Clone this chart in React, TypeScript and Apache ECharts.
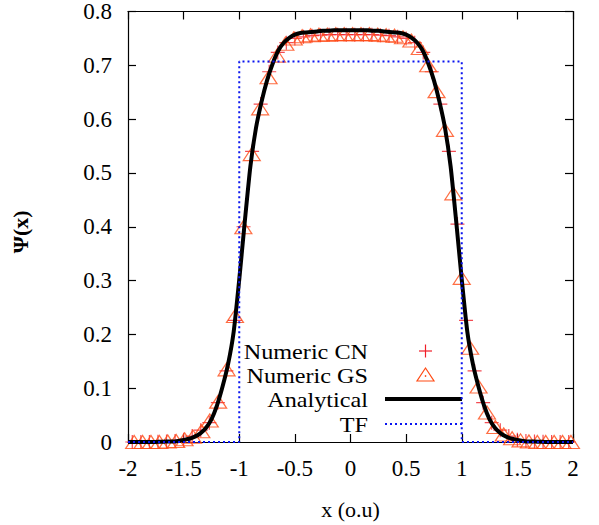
import React, { useEffect, useRef } from "react";
import * as echarts from "echarts";

// Analytical solution
const anaX = [
  -2, -1.95, -1.9, -1.85, -1.8, -1.75, -1.7, -1.65, -1.6, -1.55, -1.5, -1.45, -1.4, -1.35, -1.3, -1.25, -1.2,
  -1.15, -1.1, -1.05, -1, -0.95, -0.9, -0.85, -0.8, -0.75, -0.7, -0.65, -0.6, -0.55, -0.5, -0.45, -0.4, -0.35,
  -0.3, -0.25, -0.2, -0.15, -0.1, -0.05, 0, 0.05, 0.1, 0.15, 0.2, 0.25, 0.3, 0.35, 0.4, 0.45, 0.5, 0.55, 0.6,
  0.65, 0.7, 0.75, 0.8, 0.85, 0.9, 0.95, 1, 1.05, 1.1, 1.15, 1.2, 1.25, 1.3, 1.35, 1.4, 1.45, 1.5, 1.55, 1.6,
  1.65, 1.7, 1.75, 1.8, 1.85, 1.9, 1.95, 2,
];
const anaY = [
  0, 0, 0, 0, 0, 0.0002, 0.0005, 0.001, 0.001, 0.002, 0.004, 0.006, 0.01, 0.016, 0.026, 0.042, 0.068,
  0.103, 0.145, 0.205, 0.302, 0.41, 0.512, 0.583, 0.632, 0.672, 0.703, 0.727, 0.742, 0.751, 0.757, 0.76, 0.761, 0.762,
  0.763, 0.764, 0.764, 0.765, 0.765, 0.765, 0.765, 0.765, 0.765, 0.765, 0.764, 0.764, 0.763, 0.762, 0.761, 0.76, 0.757, 0.751, 0.742,
  0.727, 0.703, 0.672, 0.632, 0.583, 0.512, 0.41, 0.302, 0.205, 0.145, 0.103, 0.068, 0.042, 0.026, 0.016, 0.01, 0.006, 0.004, 0.002, 0.001,
  0.001, 0.0005, 0.0002, 0, 0, 0, 0, 0,
];

// Numeric CN
const cnX = [
  -1.9615, -1.8846, -1.8077, -1.7308, -1.6538, -1.5769, -1.5, -1.4231, -1.3462, -1.2692, -1.1923, -1.1154, -1.0385,
  -0.9615, -0.8846, -0.8077, -0.7308, -0.6538, -0.5769, -0.5, -0.4231, -0.3462, -0.2692, -0.1923, -0.1154, -0.0385,
  0.0385, 0.1154, 0.1923, 0.2692, 0.3462, 0.4231, 0.5, 0.5769, 0.6538, 0.7308, 0.8077, 0.8846, 0.9615,
  1.0385, 1.1154, 1.1923, 1.2692, 1.3462, 1.4231, 1.5, 1.5769, 1.6538, 1.7308, 1.8077, 1.8846, 1.9615,
];
const cnY = [
  0, 0, 0, 0.0005, 0.001, 0.002, 0.004, 0.011, 0.022, 0.036, 0.073, 0.132, 0.226,
  0.4, 0.54, 0.628, 0.688, 0.724, 0.742, 0.75, 0.753, 0.755, 0.756, 0.757, 0.757, 0.757,
  0.757, 0.757, 0.757, 0.756, 0.755, 0.753, 0.75, 0.742, 0.724, 0.688, 0.628, 0.54, 0.405,
  0.226, 0.132, 0.073, 0.036, 0.022, 0.011, 0.004, 0.002, 0.001, 0.0005, 0, 0, 0,
];

// Numeric GS
const gsX = [
  -1.9445, -1.869, -1.7935, -1.718, -1.6425, -1.567, -1.4915, -1.416, -1.3405, -1.265, -1.1895, -1.114, -1.0385,
  -0.963, -0.8875, -0.812, -0.7365, -0.661, -0.5855, -0.51, -0.4345, -0.359, -0.2835, -0.208, -0.1325, -0.057,
  0.0185, 0.094, 0.1695, 0.245, 0.3205, 0.396, 0.4715, 0.547, 0.6225, 0.698, 0.7735, 0.849, 0.9245,
  1.0, 1.0755, 1.151, 1.2265, 1.302, 1.3775, 1.453, 1.5285, 1.604, 1.6795, 1.755, 1.8305, 1.906, 1.9815,
];
const gsY = [
  0, 0, 0, 0, 0.001, 0.002, 0.005, 0.01, 0.02, 0.04, 0.075, 0.135, 0.234,
  0.399, 0.535, 0.62, 0.678, 0.718, 0.74, 0.75, 0.754, 0.756, 0.757, 0.757, 0.758, 0.758,
  0.758, 0.758, 0.758, 0.757, 0.756, 0.755, 0.752, 0.746, 0.732, 0.7, 0.652, 0.58, 0.462,
  0.305, 0.175, 0.103, 0.055, 0.028, 0.014, 0.007, 0.003, 0.001, 0, 0, 0, 0, 0,
];

// Thomas-Fermi
const tfX = [-2, -1, -1, 1, 1, 2];
const tfY = [0, 0, 0.7071, 0.7071, 0, 0];

const legendLabels = ["Numeric CN", "Numeric GS", "Analytical", "TF"];
const xTicks = { min: -2, max: 2, interval: 0.5 };
const yTicks = { min: 0, max: 0.8, interval: 0.1 };

const FONT = "'Liberation Serif', 'Times New Roman', serif";
const CN_COLOR = "#f01e28";
const GS_COLOR = "#ff4a14";
const TF_COLOR = "#0a14f0";

export default function App() {
  const ref = useRef<HTMLDivElement>(null);
  useEffect(() => {
    document.body.style.margin = "0";
    const chart = echarts.init(ref.current as HTMLDivElement, null, { renderer: "svg" });
    const zip = (xs: number[], ys: number[]) => xs.map((x, i) => [x, ys[i]]);
    const axisLine = { show: true, onZero: false, lineStyle: { color: "#000", width: 1.2 } };
    const axisTick = { show: true, inside: true, length: 8, lineStyle: { color: "#000", width: 1.2 } };
    const labelStyle = { color: "#000", fontFamily: FONT, fontSize: 23 };

    const lx = 368;
    const ix = 425.5;
    const rows = [351, 375, 399, 424];

    chart.setOption({
      animation: false,
      backgroundColor: "#fff",
      grid: { left: 128, right: 26, top: 10, bottom: 80, containLabel: false },
      xAxis: [
        {
          type: "value",
          ...xTicks,
          position: "bottom",
          axisLine,
          axisTick,
          splitLine: { show: false },
          axisLabel: { ...labelStyle, margin: 15 },
          name: "x (o.u)",
          nameLocation: "middle",
          nameGap: 56,
          nameTextStyle: { ...labelStyle, fontSize: 22 },
        },
        {
          type: "value",
          ...xTicks,
          position: "top",
          axisLine,
          axisTick,
          splitLine: { show: false },
          axisLabel: { show: false },
        },
      ],
      yAxis: [
        {
          type: "value",
          ...yTicks,
          position: "left",
          axisLine,
          axisTick,
          splitLine: { show: false },
          axisLabel: { ...labelStyle, margin: 16 },
          name: "Ψ(x)",
          nameLocation: "middle",
          nameRotate: 90,
          nameGap: 97,
          nameTextStyle: { ...labelStyle, fontSize: 22, fontWeight: "bold", padding: [0, 10, 0, 0] },
        },
        {
          type: "value",
          ...yTicks,
          position: "right",
          axisLine,
          axisTick,
          splitLine: { show: false },
          axisLabel: { show: false },
        },
      ],
      series: [
        {
          name: legendLabels[0],
          type: "scatter",
          data: zip(cnX, cnY),
          symbol: "path://M0,6L12,6M6,0L6,12",
          symbolSize: 14,
          itemStyle: { color: "rgba(0,0,0,0)", borderColor: CN_COLOR, borderWidth: 1.2 },
          z: 2,
        },
        {
          name: legendLabels[1],
          type: "scatter",
          data: zip(gsX, gsY),
          symbol: "triangle",
          symbolSize: [17, 13],
          itemStyle: { color: "rgba(0,0,0,0)", borderColor: GS_COLOR, borderWidth: 1.2 },
          z: 3,
        },
        {
          name: legendLabels[2],
          type: "line",
          data: zip(anaX, anaY),
          showSymbol: false,
          smooth: 0.2,
          lineStyle: { color: "#000", width: 4 },
          z: 4,
        },
        {
          name: legendLabels[3],
          type: "line",
          data: zip(tfX, tfY),
          showSymbol: false,
          lineStyle: { color: TF_COLOR, width: 2, type: [2, 3] },
          z: 5,
        },
      ],
      graphic: [
        ...legendLabels.map((t, i) => ({
          type: "text",
          x: lx,
          y: rows[i],
          scaleX: 1.1,
          style: {
            text: t,
            fill: "#000",
            fontFamily: FONT,
            fontSize: 22,
            align: "right",
            verticalAlign: "middle",
          },
          z: 10,
        })),
        {
          type: "line",
          shape: { x1: ix - 6.5, y1: rows[0], x2: ix + 6.5, y2: rows[0] },
          style: { stroke: CN_COLOR, lineWidth: 1.2 },
        },
        {
          type: "line",
          shape: { x1: ix, y1: rows[0] - 6.5, x2: ix, y2: rows[0] + 6.5 },
          style: { stroke: CN_COLOR, lineWidth: 1.2 },
        },
        {
          type: "polygon",
          shape: { points: [[ix, rows[1] - 7], [ix + 8.5, rows[1] + 6], [ix - 8.5, rows[1] + 6]] },
          style: { fill: "none", stroke: GS_COLOR, lineWidth: 1.2 },
        },
        {
          type: "circle",
          shape: { cx: ix, cy: rows[1] + 1, r: 0.8 },
          style: { fill: GS_COLOR },
        },
        {
          type: "line",
          shape: { x1: 385, y1: rows[2], x2: 462, y2: rows[2] },
          style: { stroke: "#000", lineWidth: 4 },
        },
        {
          type: "line",
          shape: { x1: 385, y1: rows[3], x2: 462, y2: rows[3] },
          style: { stroke: TF_COLOR, lineWidth: 2, lineDash: [2, 3] },
        },
      ],
    });
    return () => chart.dispose();
  }, []);
  return <div ref={ref} style={{ width: 599, height: 525, position: "fixed", left: 0, top: 0 }} />;
}
